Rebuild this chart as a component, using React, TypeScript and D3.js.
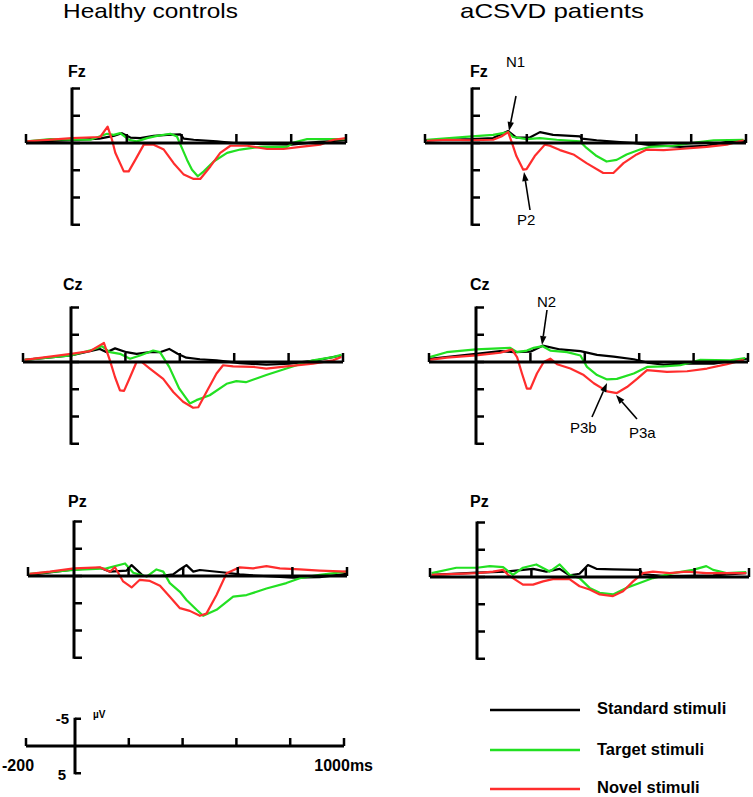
import React from "react";
import * as d3 from "d3";

// ---------- DATA ----------
const groupTitles = ["Healthy controls", "aCSVD patients"];
const electrodes = ["Fz", "Cz", "Pz"];
const seriesNames = ["Standard stimuli", "Target stimuli", "Novel stimuli"];
const timeTicks = [-200, 200, 400, 600, 800, 1000];
const uvTicks = [-10, -5, 0, 5, 10, 15];

// [time ms, amplitude µV] (negative plotted up)
const hcFzStd = [[-200,-0.2],[0,-0.5],[100,-0.8],[152,-1.3],[182,-1.8],[213,-1.0],[249,-0.9],[298,-1.3],[347,-1.5],[395,-1.6],[408,-0.8],[444,-0.6],[529,-0.3],[590,0.0],[700,0.2],[800,0.3],[900,-0.2],[1000,-0.5]];
const hcFzTgt = [[-196,-0.3],[-94,-0.7],[0,-0.6],[67,-0.6],[128,-1.7],[152,-1.5],[176,-1.8],[207,-0.6],[237,-0.3],[274,-0.9],[310,-1.3],[359,-1.7],[383,-1.2],[401,0.9],[420,3.1],[438,4.9],[459,6.1],[481,5.2],[517,3.4],[566,1.8],[614,1.2],[687,0.7],[785,0.7],[809,-0.1],[858,-0.7],[931,-0.7],[1000,-0.7]];
const hcFzNov = [[-196,-0.3],[0,-0.9],[103,-1.1],[130,-3.0],[146,-0.6],[158,1.8],[189,5.2],[207,5.2],[231,3.1],[262,0.3],[298,0.3],[335,1.2],[371,3.7],[408,5.8],[444,6.6],[468,6.6],[505,4.3],[541,1.8],[578,0.5],[639,0.5],[712,1.1],[772,1.1],[833,0.7],[906,0.3],[955,-0.6],[1000,-0.9]];

const ptFzStd = [[-200,-0.5],[0,-0.7],[77,-0.9],[132,-2.2],[162,-1.0],[211,-1.0],[248,-2.0],[296,-1.5],[394,-1.2],[400,-0.8],[455,-0.5],[504,-0.3],[589,0.0],[638,0.3],[760,0.7],[857,0.5],[930,-0.2],[1000,-0.4]];
const ptFzTgt = [[-193,-0.6],[0,-1.2],[77,-1.5],[132,-2.0],[150,-1.1],[199,-0.7],[248,-0.9],[309,-0.6],[394,-0.3],[418,0.9],[455,2.4],[491,3.4],[528,3.1],[564,2.1],[613,1.2],[650,0.7],[735,0.5],[821,-0.1],[882,-0.5],[991,-0.6]];
const ptFzNov = [[-193,-0.4],[-108,-0.6],[0,-0.5],[77,-0.6],[107,-1.2],[132,-2.0],[148,0.3],[162,2.4],[187,4.9],[199,4.8],[229,2.4],[266,0.3],[284,0.5],[321,1.3],[370,2.1],[418,3.7],[479,5.5],[516,5.5],[553,3.7],[601,2.1],[638,1.2],[699,1.3],[760,1.1],[857,0.7],[930,0.3],[991,-0.5]];

const hcCzStd = [[-193,-0.4],[0,-1.2],[106,-2.4],[131,-1.8],[162,-2.5],[204,-1.8],[241,-1.5],[290,-1.8],[327,-1.8],[361,-2.4],[392,-1.5],[424,-0.8],[474,-0.5],[535,-0.3],[621,0.2],[718,0.5],[804,0.3],[902,-0.3],[994,-1.2]];
const hcCzTgt = [[-193,-0.4],[0,-1.2],[82,-2.3],[113,-2.9],[143,-1.8],[180,-1.5],[217,-0.6],[254,-1.2],[302,-2.1],[327,-1.8],[361,0.9],[398,4.9],[437,7.6],[461,7.0],[510,6.1],[572,4.0],[608,3.5],[643,3.7],[718,2.4],[792,1.2],[841,0.4],[890,-0.3],[963,-0.9],[994,-1.3]];
const hcCzNov = [[-193,-0.4],[-88,-1.0],[0,-1.5],[70,-2.0],[121,-3.5],[143,-0.3],[162,2.8],[180,5.2],[195,5.3],[217,2.8],[241,0.0],[260,0.0],[290,1.2],[339,3.1],[376,5.5],[412,7.3],[449,8.4],[468,8.3],[498,5.5],[535,2.1],[559,0.6],[596,0.8],[670,0.9],[718,1.2],[792,0.8],[890,0.3],[963,-0.3],[994,-0.9]];

const ptCzStd = [[-197,-0.6],[0,-1.5],[89,-2.0],[138,-1.8],[200,-1.9],[245,-3.0],[310,-2.3],[384,-2.0],[445,-1.3],[506,-1.0],[580,-0.5],[629,0.1],[690,0.5],[751,0.3],[874,0.3],[996,-0.6]];
const ptCzTgt = [[-197,-0.9],[-125,-1.8],[0,-2.3],[126,-2.6],[151,-1.8],[187,-2.1],[212,-2.6],[245,-2.9],[273,-2.1],[335,-1.8],[384,-1.2],[408,0.9],[445,2.4],[482,3.2],[518,3.1],[580,2.1],[629,0.9],[690,0.8],[751,0.6],[825,-0.4],[935,-0.3],[990,-0.7]];
const ptCzNov = [[-197,-0.4],[-125,-0.8],[0,-1.2],[89,-1.7],[132,-2.3],[151,-0.9],[169,2.1],[187,4.9],[200,4.9],[224,2.1],[249,0.0],[273,-0.6],[298,0.4],[347,1.2],[396,2.4],[433,3.9],[482,5.4],[518,5.7],[555,4.6],[592,3.1],[629,1.5],[702,1.8],[776,1.7],[849,1.2],[923,0.4],[984,-0.4]];

const hcPzStd = [[-193,-0.2],[0,-1.2],[95,-1.5],[132,-0.8],[193,-1.0],[211,-2.0],[254,0.0],[315,0.0],[363,-0.3],[388,-1.2],[412,-2.0],[437,-0.8],[461,-1.1],[559,-0.6],[607,-0.3],[656,-0.1],[802,0.3],[900,0.2],[998,-0.4]];
const hcPzTgt = [[-193,-0.4],[0,-1.1],[119,-1.4],[187,-2.3],[217,-0.6],[266,0.1],[302,-1.2],[327,-0.8],[351,1.3],[388,2.9],[412,4.4],[449,6.2],[473,7.3],[522,6.2],[583,3.8],[632,3.5],[705,2.3],[778,1.3],[827,0.4],[900,-0.2],[998,-0.8]];
const hcPzNov = [[-193,-0.4],[-105,-0.8],[0,-1.4],[95,-1.6],[132,-0.8],[150,-1.6],[180,1.0],[211,2.1],[241,0.7],[278,0.9],[315,1.8],[351,3.8],[388,5.9],[424,6.4],[461,7.3],[485,6.9],[522,3.5],[559,-0.5],[607,-1.6],[656,-1.4],[705,-1.8],[754,-1.4],[827,-1.2],[900,-1.0],[998,-0.8]];

const ptPzStd = [[-193,-0.4],[0,-0.8],[108,-1.0],[169,-1.3],[206,-1.5],[255,-1.0],[304,-1.5],[340,-0.3],[377,-0.6],[408,-2.2],[439,-1.5],[500,-1.4],[598,-1.3],[610,-0.5],[684,-0.2],[745,-0.2],[868,-0.3],[990,-0.7]];
const ptPzTgt = [[-193,-0.7],[-88,-1.7],[0,-1.7],[47,-2.0],[96,-1.8],[132,-0.4],[169,-1.7],[218,-2.3],[267,-1.0],[304,-2.3],[340,-0.4],[377,0.2],[414,2.0],[451,2.9],[500,3.2],[549,2.0],[598,1.1],[647,0.2],[721,-0.7],[794,-1.3],[843,-2.0],[868,-1.3],[917,-0.7],[990,-0.9]];
const ptPzNov = [[-193,-0.4],[0,-0.7],[59,-1.0],[96,-1.3],[114,-0.4],[132,0.2],[169,1.4],[206,1.4],[243,0.8],[279,0.4],[340,0.4],[377,1.7],[414,2.3],[451,3.2],[500,3.5],[537,2.6],[574,0.8],[610,-0.7],[647,-1.0],[708,-0.7],[770,-1.0],[843,-0.7],[917,-0.7],[990,-0.7]];

// ---------- LAYOUT / STYLE ----------
const COLORS = ["#000000", "#22e022", "#ff2d2d"];
const FONT = "'Liberation Sans', Arial, Helvetica, sans-serif";
const PX_PER_UV = 5.45;

const panels = [
  { g: 0, e: 0, x0: 26, xa: 72, x1: 346, zy: 143, lx: 68, ly: 77, data: [hcFzStd, hcFzTgt, hcFzNov] },
  { g: 1, e: 0, x0: 425, xa: 472, x1: 746, zy: 143, lx: 470, ly: 77, data: [ptFzStd, ptFzTgt, ptFzNov] },
  { g: 0, e: 1, x0: 23, xa: 71, x1: 343, zy: 362, lx: 63, ly: 290, data: [hcCzStd, hcCzTgt, hcCzNov] },
  { g: 1, e: 1, x0: 429, xa: 476, x1: 748, zy: 362, lx: 470, ly: 290, data: [ptCzStd, ptCzTgt, ptCzNov] },
  { g: 0, e: 2, x0: 28, xa: 74, x1: 347, zy: 576, lx: 68, ly: 507, data: [hcPzStd, hcPzTgt, hcPzNov] },
  { g: 1, e: 2, x0: 430, xa: 477, x1: 749, zy: 577, lx: 470, ly: 507, data: [ptPzStd, ptPzTgt, ptPzNov] },
];

const annotations = [
  { text: "N1", tx: 506, ty: 67, x1: 516, y1: 96, x2: 509, y2: 131 },
  { text: "P2", tx: 517, ty: 225, x1: 530, y1: 210, x2: 524, y2: 172 },
  { text: "N2", tx: 537, ty: 307, x1: 547, y1: 310, x2: 542, y2: 345 },
  { text: "P3b", tx: 570, ty: 433, x1: 592, y1: 417, x2: 607, y2: 383 },
  { text: "P3a", tx: 629, ty: 438, x1: 637, y1: 419, x2: 616, y2: 395 },
];

function Arrow({ x1, y1, x2, y2 }: any) {
  const ang = Math.atan2(y2 - y1, x2 - x1);
  const L = 9, W = 3.2;
  const bx = x2 - L * Math.cos(ang), by = y2 - L * Math.sin(ang);
  const px = -Math.sin(ang) * W, py = Math.cos(ang) * W;
  return (
    <g>
      <line x1={x1} y1={y1} x2={bx} y2={by} stroke="#000" strokeWidth={1.6} />
      <polygon points={`${x2},${y2} ${bx + px},${by + py} ${bx - px},${by - py}`} fill="#000" />
    </g>
  );
}

function Panel({ p }: any) {
  const x = d3.scaleLinear().domain([-200, 0, 1000]).range([p.x0, p.xa, p.x1]);
  const y = d3.scaleLinear().domain([0, 1]).range([p.zy, p.zy + PX_PER_UV]);
  const line = d3.line<number[]>().x((d) => x(d[0])).y((d) => y(d[1])).curve(d3.curveLinear);
  const tickLen = 9;
  return (
    <g>
      <text x={p.lx} y={p.ly} fontFamily={FONT} fontWeight="bold" fontSize={16}>{electrodes[p.e]}</text>
      {p.data.map((s: number[][], i: number) => (
        <path key={i} d={line(s) || ""} fill="none" stroke={COLORS[i]} strokeWidth={2.2} strokeLinejoin="round" />
      ))}
      <line x1={x(-200)} x2={x(1000)} y1={y(0)} y2={y(0)} stroke="#000" strokeWidth={3} />
      {timeTicks.map((t) => (
        <line key={t} x1={x(t)} x2={x(t)} y1={y(0)} y2={y(0) - tickLen} stroke="#000" strokeWidth={2.5} />
      ))}
      <line x1={x(0)} x2={x(0)} y1={y(uvTicks[0]) - 1} y2={y(uvTicks[uvTicks.length - 1]) + 1} stroke="#000" strokeWidth={3} />
      {uvTicks.map((v) => (
        <line key={v} x1={x(0)} x2={x(0) + 8} y1={y(v)} y2={y(v)} stroke="#000" strokeWidth={2.5} />
      ))}
    </g>
  );
}

export default function App() {
  const sx = d3.scaleLinear().domain([-200, 0, 1000]).range([26, 75, 344]);
  const sy = d3.scaleLinear().domain([0, 1]).range([746, 746 + PX_PER_UV]);
  const legendY = [710, 750, 789];
  const legendTextY = [714, 755, 793];
  return (
    <svg width={753} height={797} style={{ position: "absolute", left: 0, top: 0, background: "#fff" }}>
      <rect width={753} height={797} fill="#fff" />
      <text x={63} y={18} fontFamily={FONT} fontSize={21} textLength={175} lengthAdjust="spacingAndGlyphs">{groupTitles[0]}</text>
      <text x={460} y={18} fontFamily={FONT} fontSize={21} textLength={184} lengthAdjust="spacingAndGlyphs">{groupTitles[1]}</text>
      {panels.map((p, i) => <Panel key={i} p={p} />)}
      {annotations.map((a, i) => (
        <g key={i}>
          <text x={a.tx} y={a.ty} fontFamily={FONT} fontSize={15}>{a.text}</text>
          <Arrow {...a} />
        </g>
      ))}
      <g>
        <line x1={sx(-200)} x2={sx(1000)} y1={sy(0)} y2={sy(0)} stroke="#000" strokeWidth={3} />
        {timeTicks.map((t) => (
          <line key={t} x1={sx(t)} x2={sx(t)} y1={sy(0)} y2={sy(0) - 8} stroke="#000" strokeWidth={2.5} />
        ))}
        <line x1={sx(0)} x2={sx(0)} y1={sy(-5) - 1} y2={sy(5) + 1} stroke="#000" strokeWidth={3} />
        {[-5, 5].map((v) => (
          <line key={v} x1={sx(0)} x2={sx(0) + 6} y1={sy(v)} y2={sy(v)} stroke="#000" strokeWidth={2.5} />
        ))}
        <text x={69} y={724} textAnchor="end" fontFamily={FONT} fontWeight="bold" fontSize={15}>-5</text>
        <text x={93} y={718} fontFamily={FONT} fontWeight="bold" fontSize={10}>µV</text>
        <text x={66} y={780} textAnchor="end" fontFamily={FONT} fontWeight="bold" fontSize={15}>5</text>
        <text x={2} y={771} fontFamily={FONT} fontWeight="bold" fontSize={16}>-200</text>
        <text x={373} y={771} textAnchor="end" fontFamily={FONT} fontWeight="bold" fontSize={16}>1000ms</text>
      </g>
      {seriesNames.map((n, i) => (
        <g key={n}>
          <line x1={490} x2={580} y1={legendY[i]} y2={legendY[i]} stroke={COLORS[i]} strokeWidth={2.5} />
          <text x={597} y={legendTextY[i]} fontFamily={FONT} fontWeight="bold" fontSize={16.5}>{n}</text>
        </g>
      ))}
    </svg>
  );
}
